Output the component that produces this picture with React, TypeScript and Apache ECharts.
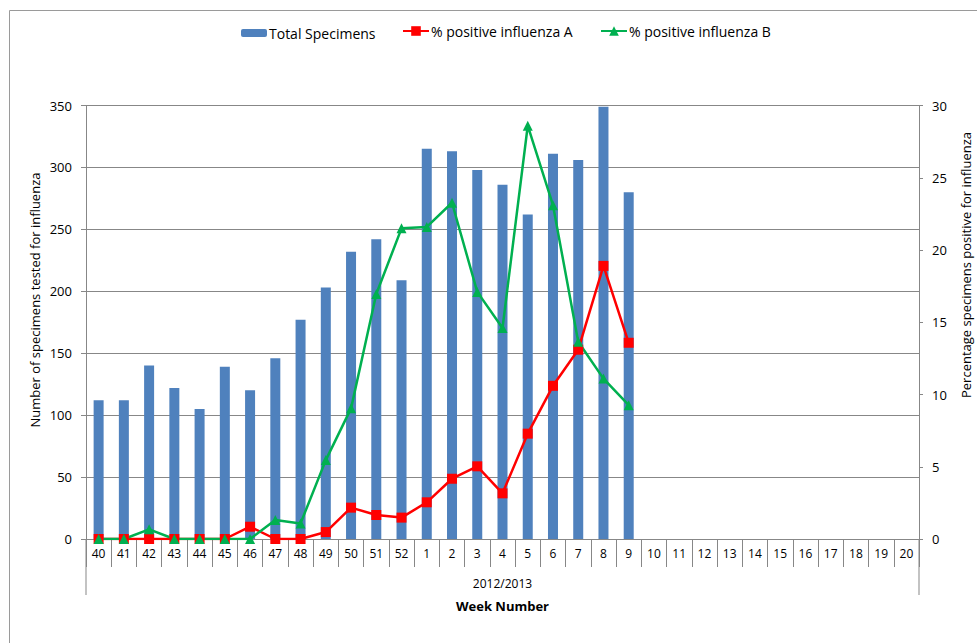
import React, { useEffect, useRef } from "react";
import * as echarts from "echarts";

const weeks = ["40","41","42","43","44","45","46","47","48","49","50","51","52","1","2","3","4","5","6","7","8","9","10","11","12","13","14","15","16","17","18","19","20"];
const totalSpecimens = [112,112,140,122,105,139,120,146,177,203,232,242,209,315,313,298,286,262,311,306,349,280];
const pctFluA = [0,0,0,0,0,0,0.85,0,0,0.48,2.17,1.66,1.48,2.54,4.17,5.03,3.16,7.29,10.6,13.1,18.9,13.58];
const pctFluB = [0,0,0.67,0,0,0,0,1.31,1.08,5.46,9.04,16.95,21.5,21.6,23.27,17.1,14.6,28.6,23.1,13.65,11.1,9.26];
const leftTicks = { min: 0, max: 350, interval: 50 };
const rightTicks = { min: 0, max: 30, interval: 5 };

const FONT = "Open Sans";
const GRAY = "#878787";

export default function App() {
  const ref = useRef<HTMLDivElement>(null);
  useEffect(() => {
    if (!ref.current) return;
    const chart = echarts.init(ref.current, null, { renderer: "svg" });
    const legendText = { fontFamily: FONT, fontSize: 14, color: "#000", padding: [0, 0, 0, -3] };
    chart.setOption({
      animation: false,
      backgroundColor: "#fff",
      textStyle: { fontFamily: FONT },
      legend: [
        { data: ["Total Specimens"], left: 241, top: 26, padding: 0, itemWidth: 26, itemHeight: 8, textStyle: legendText },
        { data: ["% positive influenza A"], left: 402, top: 24, padding: 0, itemWidth: 26, itemHeight: 12, textStyle: legendText },
        { data: ["% positive influenza B"], left: 600, top: 24, padding: 0, itemWidth: 26, itemHeight: 12, textStyle: legendText },
      ],
      grid: { left: 86, right: 58, top: 105.5, bottom: 104, containLabel: false },
      xAxis: {
        type: "category",
        data: weeks,
        boundaryGap: true,
        axisLine: { show: true, lineStyle: { color: GRAY, width: 1 } },
        axisTick: { show: true, interval: 0, length: 28, lineStyle: { color: GRAY } },
        axisLabel: { interval: 0, color: "#000", fontFamily: FONT, fontSize: 12, margin: 8 },
        name: "Week Number",
        nameLocation: "middle",
        nameGap: 60,
        nameTextStyle: { fontFamily: FONT, fontSize: 13, fontWeight: "bold", color: "#000" },
      },
      yAxis: [
        {
          type: "value",
          ...leftTicks,
          position: "left",
          axisLine: { show: true, lineStyle: { color: GRAY } },
          axisTick: { show: true, length: 5, lineStyle: { color: GRAY } },
          axisLabel: { color: "#000", fontFamily: FONT, fontSize: 13, margin: 14 },
          splitLine: { show: true, lineStyle: { color: GRAY, width: 1 } },
        },
        {
          type: "value",
          ...rightTicks,
          position: "right",
          axisLine: { show: true, lineStyle: { color: GRAY } },
          axisTick: { show: true, length: 4, lineStyle: { color: GRAY } },
          axisLabel: { color: "#000", fontFamily: FONT, fontSize: 13, margin: 13 },
          splitLine: { show: false },
        },
      ],
      series: [
        {
          name: "Total Specimens",
          type: "bar",
          data: totalSpecimens,
          yAxisIndex: 0,
          barWidth: 10,
          itemStyle: { color: "#4F81BD" },
        },
        {
          name: "% positive influenza A",
          type: "line",
          data: pctFluA,
          yAxisIndex: 1,
          symbol: "rect",
          symbolSize: 10,
          lineStyle: { color: "#FF0000", width: 2.5 },
          itemStyle: { color: "#FF0000" },
        },
        {
          name: "% positive influenza B",
          type: "line",
          data: pctFluB,
          yAxisIndex: 1,
          symbol: "triangle",
          symbolSize: 10,
          lineStyle: { color: "#00B050", width: 2.5 },
          itemStyle: { color: "#00B050" },
        },
      ],
      graphic: [
        { type: "rect", shape: { x: 9.5, y: 10.5, width: 1100, height: 800 }, style: { fill: "none", stroke: "#9a9a9a", lineWidth: 1 }, silent: true },
        { type: "line", shape: { x1: 86, y1: 539, x2: 86, y2: 595 }, style: { stroke: GRAY, lineWidth: 1 } },
        { type: "line", shape: { x1: 919, y1: 539, x2: 919, y2: 595 }, style: { stroke: GRAY, lineWidth: 1 } },
        { type: "text", x: 502.5, y: 583, style: { text: "2012/2013", fontFamily: FONT, fontSize: 12, fill: "#000", textAlign: "center", textVerticalAlign: "middle" } },
        { type: "text", x: 35, y: 300, rotation: Math.PI / 2, style: { text: "Number of specimens tested for influenza", fontFamily: FONT, fontSize: 13, fill: "#000", textAlign: "center", textVerticalAlign: "middle" } },
        { type: "text", x: 966, y: 265, rotation: Math.PI / 2, style: { text: "Percentage specimens positive for influenza", fontFamily: FONT, fontSize: 13, fill: "#000", textAlign: "center", textVerticalAlign: "middle" } },
      ],
    });
    return () => chart.dispose();
  }, []);
  return <div ref={ref} style={{ position: "absolute", left: 0, top: 0, width: 977, height: 643 }} />;
}
